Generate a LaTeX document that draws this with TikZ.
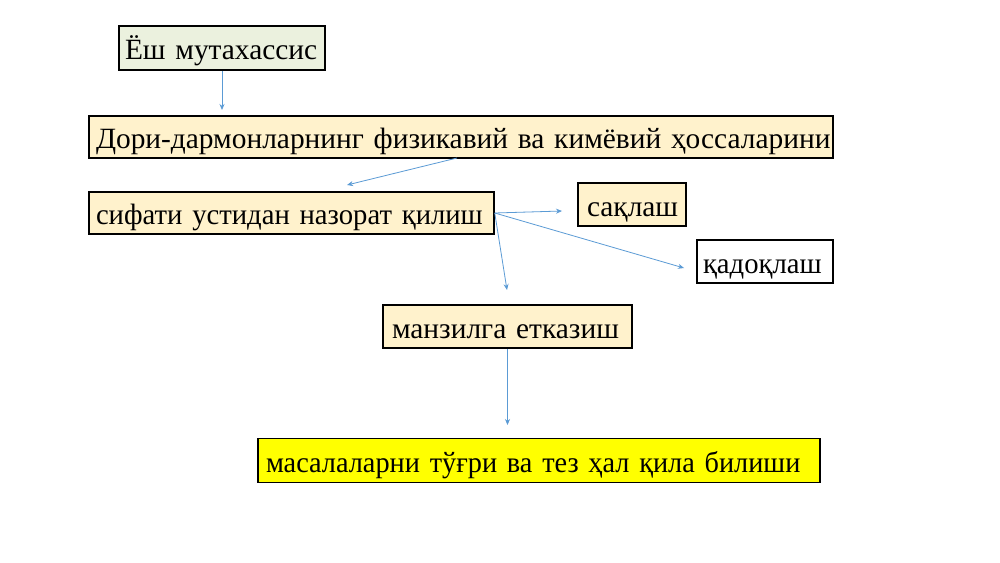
\documentclass[tikz,border=0pt]{standalone}
\usepackage{fontspec}
\setmainfont{Liberation Serif}[WordSpace=0.7]
\newfontfamily\fontnarA{Liberation Serif}[WordSpace=0.7, FakeStretch=0.975]
\newfontfamily\fontnarB{Liberation Serif}[WordSpace=0.7, FakeStretch=0.962]
\usetikzlibrary{arrows.meta}
\definecolor{arr}{HTML}{5B9BD5}
\definecolor{cream}{HTML}{FFF2CC}
\definecolor{lgreen}{HTML}{EBF1DE}
\definecolor{yel}{HTML}{FFFF00}
\begin{document}
\begin{tikzpicture}[x=1pt,y=-1pt,
  box/.style={draw=black, line width=1.5pt, inner xsep=7pt, inner ysep=0pt,
    font=\fontsize{29.4}{32}\selectfont, align=left, anchor=center,
    text height=27pt, text depth=4pt},
  conn/.style={draw=arr, line width=0.8pt, -{Stealth[length=6pt,width=5pt]}}]
\path[use as bounding box, fill=white] (0,0) rectangle (1000,562);
\node[box, fill=lgreen, inner xsep=6pt, minimum width=206pt, minimum height=44pt, text width=194pt] (a) at (222,48) {\mbox{Ёш мутахассис}};
\node[box, fill=cream, minimum width=744pt, minimum height=42pt, text width=730pt] (b) at (461,137) {\mbox{Дори-дармонларнинг физикавий ва кимёвий ҳоссаларини}};
\node[box, fill=cream, minimum width=405pt, minimum height=42pt, text width=391pt] (c) at (291.5,213) {\fontnarA\mbox{сифати устидан назорат қилиш}};
\node[box, fill=cream, inner xsep=9pt, minimum width=108pt, minimum height=43pt, text width=90pt] (d) at (632,204.5) {\mbox{сақлаш}};
\node[box, fill=white, inner xsep=6pt, minimum width=136pt, minimum height=43pt, text width=124pt] (e) at (765,261.5) {\fontnarA\mbox{қадоқлаш}};
\node[box, fill=cream, inner xsep=9pt, minimum width=249pt, minimum height=43pt, text width=231pt] (f) at (507.5,326.5) {\mbox{манзилга етказиш}};
\node[box, fill=yel, inner xsep=8pt, minimum width=562pt, minimum height=44pt, text width=546pt] (g) at (539,460.5) {\fontnarB\mbox{масалаларни тўғри ва тез ҳал қила билиши}};
\coordinate (ab) at (222,110);
\coordinate (bs) at (457,158);
\coordinate (bc) at (347,185);
\coordinate (cd) at (562,211);
\coordinate (ce) at (684,268);
\coordinate (cf) at (507,290);
\coordinate (fg) at (507.5,425);
\draw[conn] (a.south) -- (ab);
\draw[conn] (bs) -- (bc);
\draw[conn] (c.east) -- (cd);
\draw[conn] (c.east) -- (ce);
\draw[conn] (c.east) -- (cf);
\draw[conn] (f.south) -- (fg);
\end{tikzpicture}
\end{document}
